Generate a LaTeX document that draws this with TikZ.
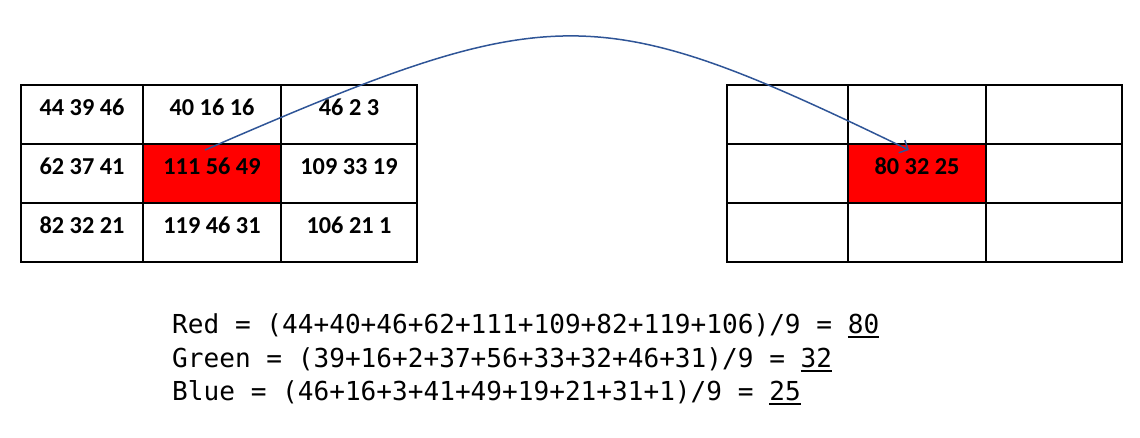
\documentclass[tikz,border=0pt]{standalone}
\usepackage{fontspec}
\setmainfont{Carlito}
\newfontfamily\monofont{DejaVu Sans Mono}
\usetikzlibrary{arrows.meta,calc}
\definecolor{arrowblue}{RGB}{47,85,151}
\newcommand\myul[1]{\setbox0\hbox{#1}\rlap{\rule[-4.5pt]{\wd0}{1.6pt}}\box0}
\begin{document}
\begin{tikzpicture}[x=1pt,y=-1pt,
  cell/.style={draw=black,line width=1.8pt,inner sep=0pt,outer sep=0pt,anchor=north west,
    minimum height=59pt,text height=30pt,text depth=29pt,
    font=\fontsize{24.3}{29}\selectfont\bfseries},
  hot/.style={cell,fill=red},
  eqn/.style={anchor=base west,inner sep=0pt,font=\monofont\fontsize{26.1}{31}\selectfont},
  link/.style={draw=arrowblue,line width=1.5pt,-{Straight Barb[length=7pt,width=14pt]}}]
\useasboundingbox (0,0) rectangle (1140,437);
% left grid
\node[cell,minimum width=122pt] (L00) at (21,85) {44 39 46};
\node[cell,minimum width=138pt] (L01) at (143,85) {40 16 16};
\node[cell,minimum width=136pt] (L02) at (281,85) {46 2 3};
\node[cell,minimum width=122pt] (L10) at (21,144) {62 37 41};
\node[hot,minimum width=138pt] (L11) at (143,144) {111 56 49};
\node[cell,minimum width=136pt] (L12) at (281,144) {109 33 19};
\node[cell,minimum width=122pt] (L20) at (21,203) {82 32 21};
\node[cell,minimum width=138pt] (L21) at (143,203) {119 46 31};
\node[cell,minimum width=136pt] (L22) at (281,203) {106 21 1};
% right grid
\node[cell,minimum width=121pt] (R00) at (727,85) {};
\node[cell,minimum width=138pt] (R01) at (848,85) {};
\node[cell,minimum width=136pt] (R02) at (986,85) {};
\node[cell,minimum width=121pt] (R10) at (727,144) {};
\node[hot,minimum width=138pt] (R11) at (848,144) {80 32 25};
\node[cell,minimum width=136pt] (R12) at (986,144) {};
\node[cell,minimum width=121pt] (R20) at (727,203) {};
\node[cell,minimum width=138pt] (R21) at (848,203) {};
\node[cell,minimum width=136pt] (R22) at (986,203) {};
% arrow
\coordinate (s) at ($(L11.north west)+(62,6)$);
\coordinate (e) at ($(R11.north west)+(61,6)$);
\draw[link] (s) .. controls (555,-2) and (595,-2) .. (e);
% equations
\node[eqn] (red) at (172,333) {Red = (44+40+46+62+111+109+82+119+106)/9 = \myul{80}};
\node[eqn] (green) at (172,367) {Green = (39+16+2+37+56+33+32+46+31)/9 = \myul{32}};
\node[eqn] (blue) at (172,400) {Blue = (46+16+3+41+49+19+21+31+1)/9 = \myul{25}};
\end{tikzpicture}
\end{document}
